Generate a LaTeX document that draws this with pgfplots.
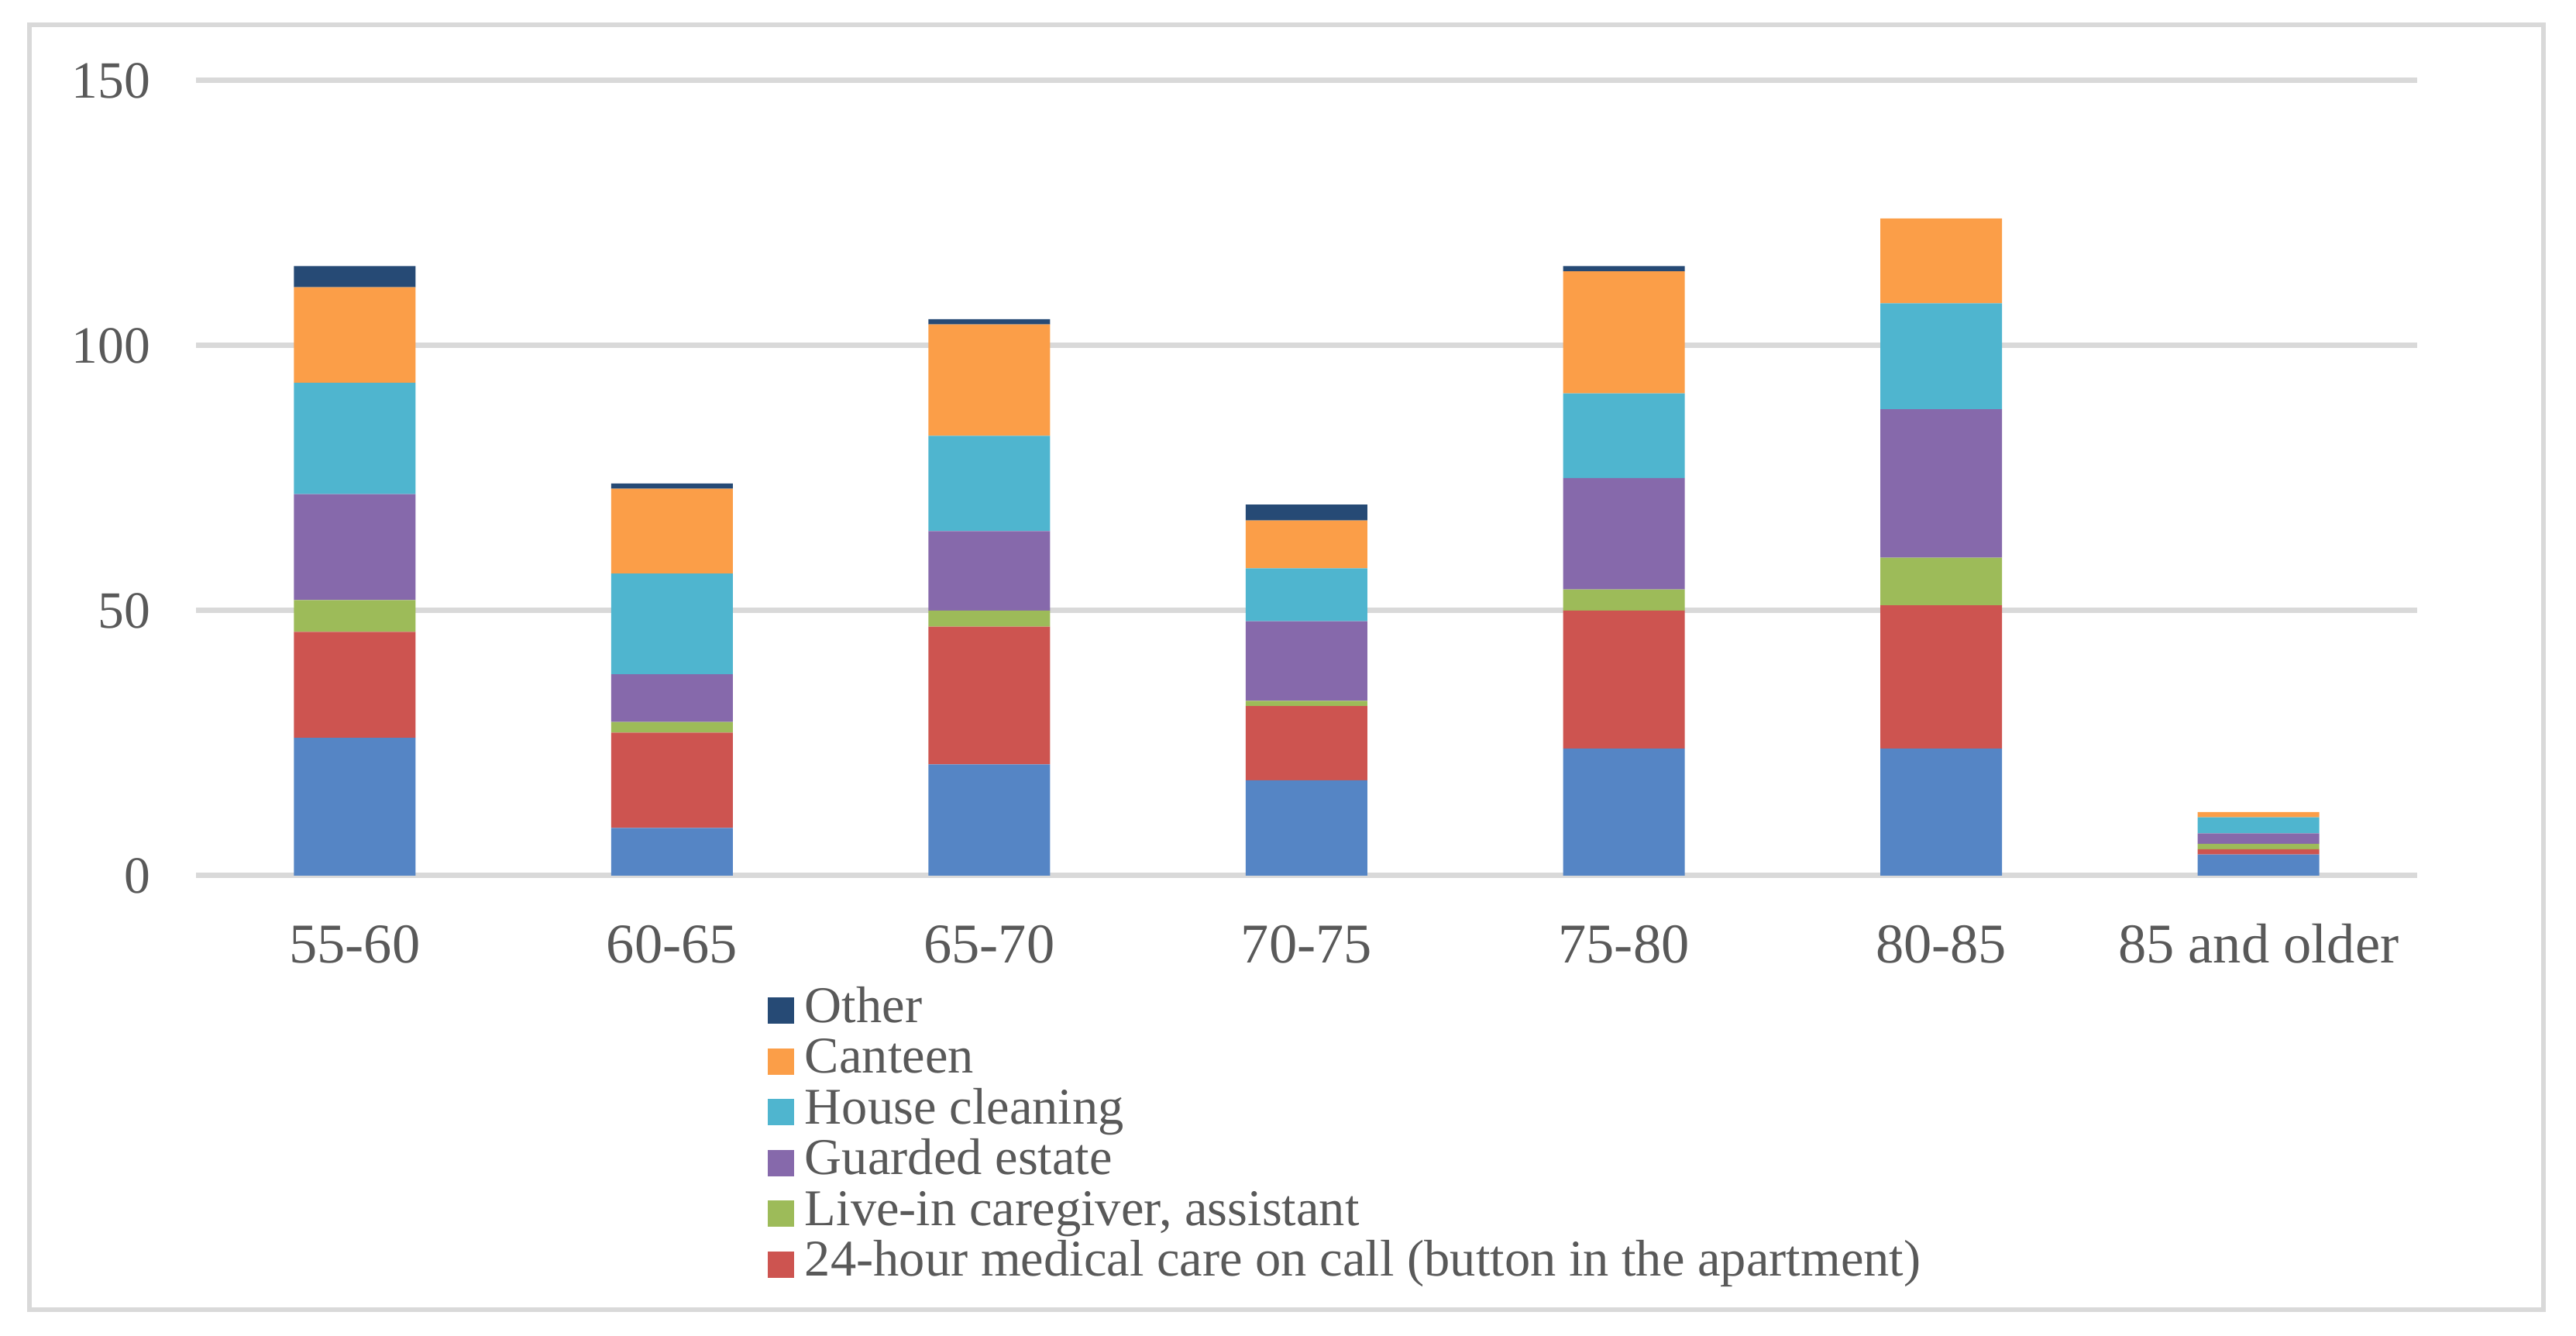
\documentclass[border=0pt]{standalone}
\usepackage{fontspec}
\setmainfont{Liberation Serif}
\usepackage{pgfplots}
\pgfplotsset{compat=1.18}
\definecolor{txt}{HTML}{595959}
\definecolor{gridc}{HTML}{D9D9D9}
\definecolor{cblue}{HTML}{5585C5}
\definecolor{cred}{HTML}{CD5450}
\definecolor{cgreen}{HTML}{9DBB59}
\definecolor{cpurple}{HTML}{8669AB}
\definecolor{ccyan}{HTML}{4FB5CF}
\definecolor{corange}{HTML}{FB9E48}
\definecolor{cother}{HTML}{264A75}
\pgfplotsset{lgd/.style={legend image code/.code={\draw[##1,/tikz/.cd,draw=none] (0pt,-3.4pt) rectangle (6.8pt,3.4pt);}}}
\begin{document}
\begin{tikzpicture}
\begin{axis}[
  at={(0,0)}, anchor=south west,
  width=573.4pt, height=205.2pt, scale only axis,
  xmin=-0.5, xmax=6.5, ymin=0, ymax=150,
  ytick={0,50,100,150},
  xtick={0,...,6},
  xticklabels={55-60,60-65,65-70,70-75,75-80,80-85,85 and older},
  axis line style={draw=none},
  major tick length=0pt,
  ymajorgrids, grid style={gridc, line width=1.4pt},
  ybar stacked, bar width=31.4pt,
  /pgf/number format/assume math mode=true,
  yticklabel style={anchor=east, inner sep=0pt, xshift=-11.6pt, text=txt, font=\fontsize{13.5pt}{16pt}\selectfont},
  xticklabel style={anchor=base, inner sep=0pt, yshift=-22.6pt, text=txt, font=\fontsize{14.5pt}{17pt}\selectfont},
  legend style={at={(0.2574,-0.1379)}, anchor=north west, draw=none, fill=none, inner sep=0pt, outer sep=0pt, row sep=0pt, column sep=2.8pt, font=\fontsize{13.3pt}{15pt}\selectfont, text=txt, nodes={inner sep=0pt, text height=9.6pt, text depth=3.5pt}},
  legend cell align=left,
  reverse legend,
]
\addplot[fill=cblue, draw=none, forget plot] coordinates {(0,26) (1,9) (2,21) (3,18) (4,24) (5,24) (6,4)};
\addplot[fill=cred, draw=none, lgd] coordinates {(0,20) (1,18) (2,26) (3,14) (4,26) (5,27) (6,1)};
\addplot[fill=cgreen, draw=none, lgd] coordinates {(0,6) (1,2) (2,3) (3,1) (4,4) (5,9) (6,1)};
\addplot[fill=cpurple, draw=none, lgd] coordinates {(0,20) (1,9) (2,15) (3,15) (4,21) (5,28) (6,2)};
\addplot[fill=ccyan, draw=none, lgd] coordinates {(0,21) (1,19) (2,18) (3,10) (4,16) (5,20) (6,3)};
\addplot[fill=corange, draw=none, lgd] coordinates {(0,18) (1,16) (2,21) (3,9) (4,23) (5,16) (6,1)};
\addplot[fill=cother, draw=none, lgd] coordinates {(0,4) (1,1) (2,1) (3,3) (4,1) (5,0) (6,0)};
\legend{24-hour medical care on call (button in the apartment),{Live-in caregiver, assistant},Guarded estate,House cleaning,Canteen,Other}
\end{axis}
\draw[gridc, line width=1.2pt] (-43pt,-112pt) rectangle (606pt,219.6pt);
\pgfresetboundingbox
\path (-50.6pt,-118.8pt) rectangle (614.4pt,226pt);
\end{tikzpicture}
\end{document}
